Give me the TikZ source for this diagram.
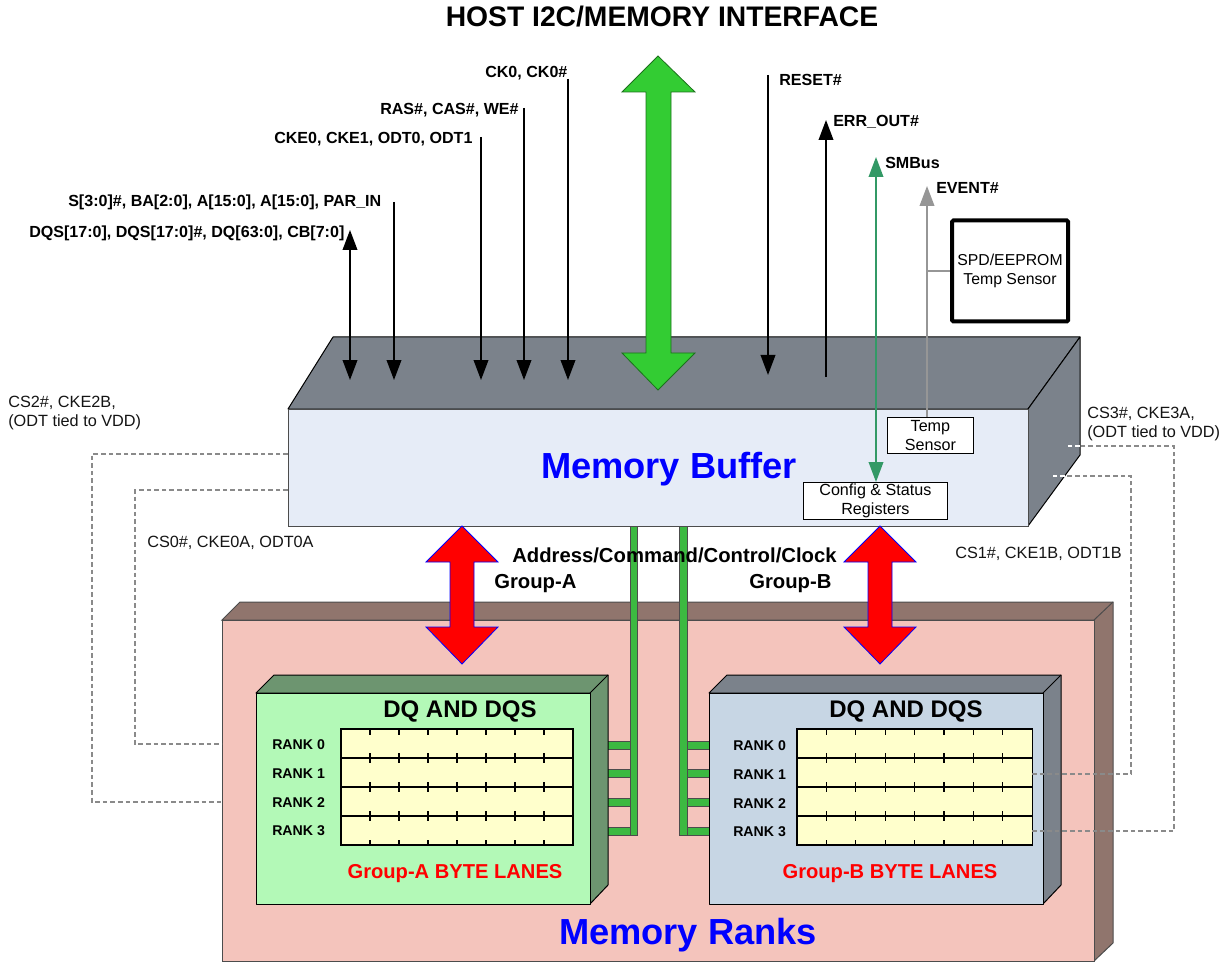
\documentclass[tikz,border=0pt]{standalone}
\usepackage{fontspec}
\setmainfont{Liberation Sans}
\usetikzlibrary{arrows.meta}
\definecolor{slate}{HTML}{7B828B}
\definecolor{bufface}{HTML}{E6ECF7}
\definecolor{rankface}{HTML}{F4C4BC}
\definecolor{ranktop}{HTML}{90756D}
\definecolor{greenface}{HTML}{B3F9B7}
\definecolor{greentop}{HTML}{6D9570}
\definecolor{blueface}{HTML}{C7D6E4}
\definecolor{gridfill}{HTML}{FFFFCC}
\definecolor{busgreen}{HTML}{3CB941}
\definecolor{biggreen}{HTML}{33CC33}
\definecolor{seagreen}{HTML}{339966}
\definecolor{dashgray}{HTML}{8A8A8A}
\definecolor{arrowgray}{HTML}{969696}
\tikzset{
 x=0.75pt,y=-0.75pt,
 face/.style={draw=black,line width=0.75pt,line join=round},
 busbar/.style={draw=black!70,fill=busgreen,line width=0.5pt},
 redarrow/.style={draw=blue,fill=red,line width=0.6pt,line join=miter},
 wire/.style={draw=dashgray,line width=1.35pt,dash pattern=on 3.4pt off 2.3pt},
 whitewire/.style={wire,draw=white},
 sig/.style={draw=black,line width=1.2pt},
 bolt/.style={font=\bfseries\fontsize{12.05}{14}\selectfont,inner sep=0pt,anchor=west},
 lab/.style={font=\fontsize{12.2}{14.3}\selectfont,inner sep=0pt,anchor=west,align=left,text=black!92},
 rk/.style={font=\bfseries\fontsize{10.6}{12}\selectfont,inner sep=0pt,anchor=west},
 hd/.style={font=\bfseries\fontsize{18}{20}\selectfont,inner sep=0pt},
 midlab/.style={font=\bfseries\fontsize{15.2}{17}\selectfont,inner sep=0pt,anchor=west},
 lanes/.style={font=\bfseries\fontsize{15.1}{17}\selectfont,inner sep=0pt,text=red},
 bigblue/.style={font=\bfseries\fontsize{27.2}{30}\selectfont,text=blue,inner sep=0pt,anchor=base},
 smallbox/.style={draw=black,fill=white,line width=0.6pt,inner sep=0pt,align=center,font=\fontsize{12.1}{14.25}\selectfont},
 head/.style={-{Triangle[length=15pt,width=11pt]}},
 both/.style={{Triangle[length=15pt,width=11pt]}-{Triangle[length=15pt,width=11pt]}}
}
\begin{document}
\begin{tikzpicture}
\useasboundingbox (0,0) rectangle (1227,962);
% Memory Ranks
\path[fill=ranktop,draw=black!70,line width=0.75pt] (222,620)--(240,602)--(1113,602)--(1113,943)--(1094,961)--(1094,620)--cycle;
\draw[black!70,line width=0.75pt] (1094,620)--(1113,602);
\node[draw=black!70,fill=rankface,line width=0.75pt,minimum width=872*0.75pt,minimum height=341*0.75pt,inner sep=0pt,anchor=north west] (ranks) at (222,620) {};
% Buffer
\path[face,fill=slate] (288,409)--(333,337)--(1080,337)--(1028,409)--cycle;
\path[face,fill=slate] (1028,409)--(1080,337)--(1080,455)--(1028,526)--cycle;
\node[draw=black!70,fill=bufface,line width=0.75pt,minimum width=740*0.75pt,minimum height=117*0.75pt,inner sep=0pt,anchor=north west] (buf) at (288,409) {};
% green buses
\path[busbar] (630,526) rectangle (637,835);
\path[busbar] (679,526) rectangle (687,835);
\foreach \y in {745,773,802,831}{
 \path[busbar] (607,\y-4) rectangle (630,\y+4);
 \path[busbar] (687,\y-4) rectangle (709,\y+4);
}
\node[midlab] (addr) at (512,555) {Address/Command/Control/Clock};
\node[midlab] (ga) at (494,584) {Group-A};
\node[midlab] (gb) at (749,584) {Group-B};
% Group A block
\path[face,fill=greentop] (256,693)--(274,675)--(608,675)--(608,885)--(590,904)--(590,693)--cycle;
\path[face] (590,693)--(608,675);
\node[face,fill=greenface,minimum width=334*0.75pt,minimum height=211*0.75pt,inner sep=0pt,anchor=north west] (blockA) at (256,693) {};
% Group B block
\path[face,fill=slate] (709,693)--(727,675)--(1061,675)--(1061,885)--(1043,904)--(1043,693)--cycle;
\path[face] (1043,693)--(1061,675);
\node[face,fill=blueface,minimum width=334*0.75pt,minimum height=211*0.75pt,inner sep=0pt,anchor=north west] (blockB) at (709,693) {};
\node[hd] (dqa) at (460,711) {DQ AND DQS};
\node[hd] (dqb) at (906,711) {DQ AND DQS};
% grids
\foreach \xl/\st in {341/29.0,797/29.4}{
 \pgfmathsetmacro{\xr}{\xl+8*\st}
 \path[draw=black,fill=gridfill,line width=0.9pt] (\xl,729) rectangle (\xr,845);
 \foreach \y in {758,787,816} \draw[black,line width=0.9pt] (\xl,\y)--(\xr,\y);
 \foreach \i in {1,...,7}{
  \pgfmathsetmacro{\tx}{\xl+\i*\st}
  \draw[black,line width=0.8pt] (\tx,729)--(\tx,735);
  \foreach \y in {758,787,816} \draw[black,line width=0.8pt] (\tx,\y-5)--(\tx,\y+5);
  \draw[black,line width=0.8pt] (\tx,840)--(\tx,845);
 }
}
\foreach \n/\y in {0/745,1/774,2/803,3/831}{
 \node[rk] at (272,\y) {RANK \n};
 \node[rk] at (733,\y+1) {RANK \n};
}
\node[lanes] (la) at (455,874) {Group-A BYTE LANES};
\node[lanes] (lb) at (890,874) {Group-B BYTE LANES};
\node[bigblue] (mr) at (688,944) {Memory Ranks};
\node[bigblue] (mb) at (669,478) {Memory Buffer};
% red arrows
\foreach \c in {462,880}{
 \path[redarrow] (\c,526)--(\c+36,562)--(\c+12,562)--(\c+12,627)--(\c+36,627)--(\c,664)--(\c-36,627)--(\c-12,627)--(\c-12,562)--(\c-36,562)--cycle;
}
% big green arrow
\path[draw=black!45!biggreen,fill=biggreen,line width=0.6pt] (658,56)--(695,92)--(671,92)--(671,353)--(695,353)--(658,390)--(622,353)--(646,353)--(646,92)--(622,92)--cycle;
% title
\node[font=\bfseries\fontsize{21.2}{24}\selectfont,inner sep=0pt] (title) at (662,17) {HOST I2C/MEMORY INTERFACE};
% signals
\foreach \nm/\x/\y in {dqs/350/230,sba/394/202,cke/481/137,ras/524/108,ckz/568/79,rst/768/75,err/826/120,smb/876/157,evt/927/186}
 \coordinate (\nm) at (\x,\y);
\draw[sig,both] (dqs)--(350,380);
\draw[sig,head] (sba)--(394,380);
\draw[sig,head] (cke)--(481,380);
\draw[sig,head] (ras)--(524,380);
\draw[sig,head] (ckz)--(568,380);
\draw[sig,head] (rst)--(768,375);
\draw[sig,head] (826,377)--(err);
\node[bolt] at (29,233) {DQS[17:0], DQS[17:0]\#, DQ[63:0], CB[7:0]};
\node[bolt] at (68,202) {S[3:0]\#, BA[2:0], A[15:0], A[15:0], PAR\_IN};
\node[bolt] at (274,139) {CKE0, CKE1, ODT0, ODT1};
\node[bolt] at (380,110) {RAS\#, CAS\#, WE\#};
\node[bolt] at (485,73) {CK0, CK0\#};
\node[bolt] at (779,80) {RESET\#};
\node[bolt] at (833,122) {ERR\_OUT\#};
\node[bolt] at (885,163) {SMBus};
\node[bolt] at (936,188) {EVENT\#};
% right-hand units
\node[smallbox,minimum width=86*0.75pt,minimum height=36*0.75pt,anchor=north west] (temp) at (887,417) {Temp\\Sensor};
\node[smallbox,minimum width=144*0.75pt,minimum height=37*0.75pt,anchor=north west] (cfg) at (803,482) {Config \& Status\\Registers};
\node[draw=black,fill=white,line width=3pt,rounded corners=1pt,minimum width=116*0.75pt,minimum height=101*0.75pt,inner sep=0pt,align=center,anchor=north west,font=\fontsize{11.85}{14.25}\selectfont] (spd) at (950,218.5) {SPD/EEPROM\\Temp Sensor};
\draw[seagreen,line width=1.2pt,both] (smb)--(876,482);
\draw[arrowgray,line width=1.3pt,head] (927,417)--(evt);
\draw[arrowgray,line width=1.3pt] (927,0|-spd.west)--(spd.west);
% dashed wires
\draw[wire] (buf.west|-0,454)--(92,454)--(92,802)--(ranks.west|-0,802);
\draw[wire] (buf.west|-0,490)--(135,490)--(135,744)--(ranks.west|-0,744);
\draw[wire] (1032,774)--(1131,774)--(1131,476)--(1065,476);
\draw[wire] (1032,831)--(1174,831)--(1174,446)--(1080,446);
\draw[whitewire] (1065,476)--(1050,476);
\draw[whitewire] (1080,446)--(1066,446);
\node[lab] at (8,413) {CS2\#, CKE2B,\\(ODT tied to VDD)};
\node[lab] at (147,543) {CS0\#, CKE0A, ODT0A};
\node[lab] at (1087,424) {CS3\#, CKE3A,\\(ODT tied to VDD)};
\node[lab] at (955,554) {CS1\#, CKE1B, ODT1B};
\end{tikzpicture}
\end{document}
